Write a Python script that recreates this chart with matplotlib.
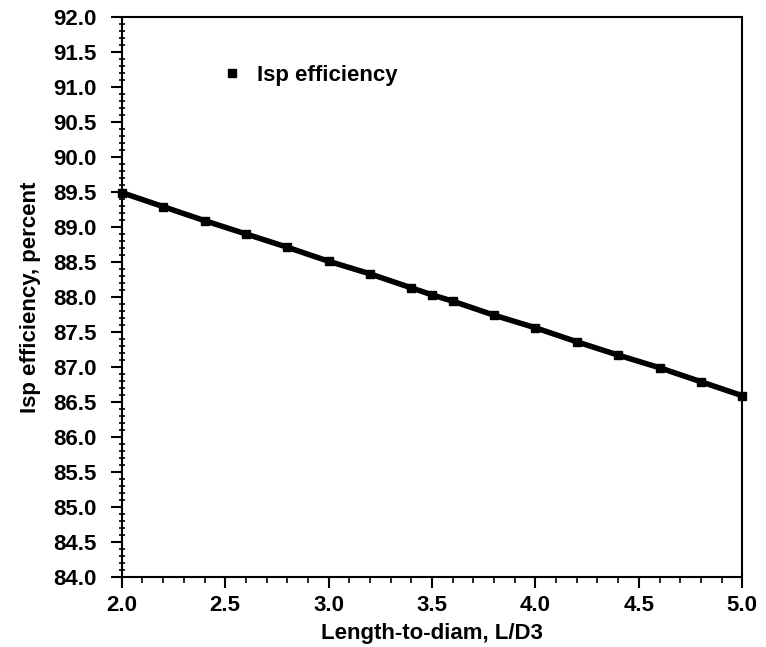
import matplotlib.pyplot as plt
from matplotlib.ticker import MultipleLocator

plt.rcParams['font.family'] = ['Liberation Sans', 'DejaVu Sans']
plt.rcParams['font.weight'] = 'bold'

ld = [2.0, 2.2, 2.4, 2.6, 2.8, 3.0, 3.2, 3.4, 3.5, 3.6, 3.8, 4.0, 4.2, 4.4, 4.6, 4.8, 5.0]
isp_eff = [89.49, 89.29, 89.09, 88.90, 88.71, 88.51, 88.33, 88.13, 88.03, 87.94,
           87.74, 87.56, 87.36, 87.17, 86.99, 86.79, 86.59]

fig = plt.figure(figsize=(7.66, 6.47), dpi=100)
ax = fig.add_axes([0.159, 0.108, 0.81, 0.866])

ax.plot(ld, isp_eff, color='black', lw=4, marker='s', ms=6, zorder=3, clip_on=False)
ax.plot([], [], 's', color='black', ms=6, label='Isp efficiency')

ax.set_xlim(2.0, 5.0)
ax.set_ylim(84.0, 92.0)
ax.xaxis.set_major_locator(MultipleLocator(0.5))
ax.xaxis.set_minor_locator(MultipleLocator(0.1))
ax.yaxis.set_major_locator(MultipleLocator(0.5))
ax.yaxis.set_minor_locator(MultipleLocator(0.1))
ax.xaxis.set_major_formatter('{x:.1f}')
ax.yaxis.set_major_formatter('{x:.1f}')
ax.tick_params(which='major', direction='out', length=8, width=1.5, labelsize=16)
ax.tick_params(axis='y', which='major', pad=10)
ax.tick_params(axis='x', which='major', pad=5)
ax.tick_params(which='minor', direction='out', length=4, width=1.2)
ax.tick_params(axis='y', which='minor', direction='inout', length=5)
for s in ax.spines.values():
    s.set_linewidth(1.5)

ax.set_xlabel('Length-to-diam, L/D3', fontsize=16, fontweight='bold', labelpad=5)
ax.set_ylabel('Isp efficiency, percent', fontsize=16, fontweight='bold', labelpad=9)

ax.legend(loc='upper left', bbox_to_anchor=(0.128, 0.95), frameon=False,
          fontsize=16, handletextpad=0.6, handlelength=1.0)

fig.savefig('out.png', dpi=100)
